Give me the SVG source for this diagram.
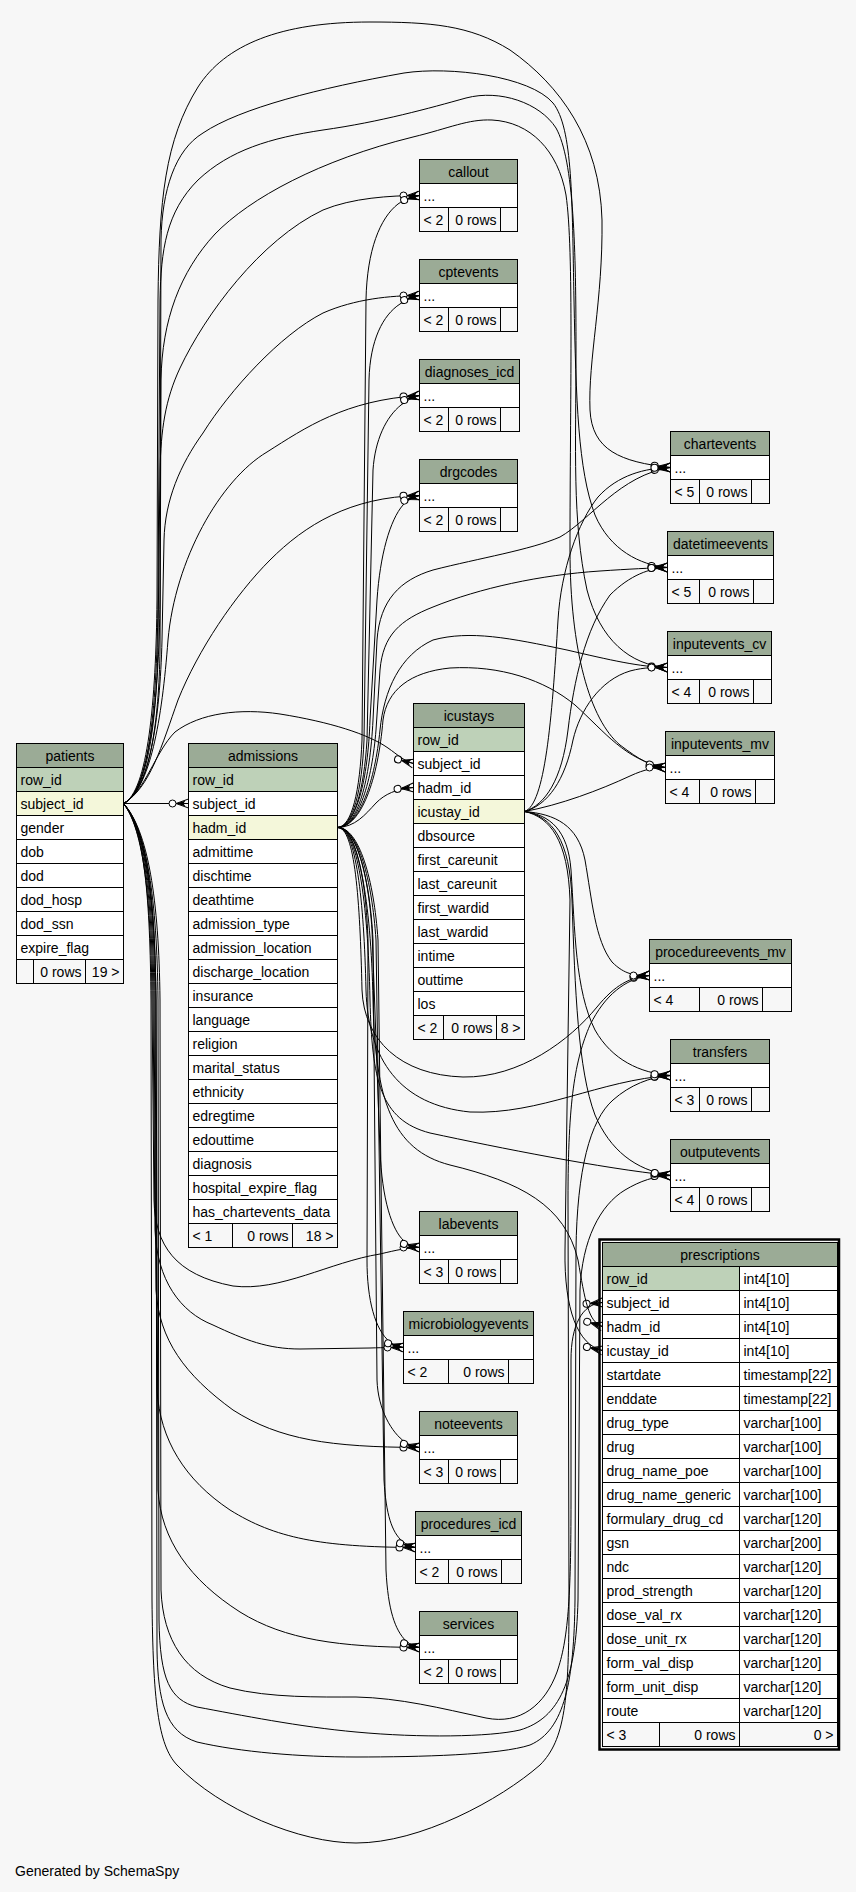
<svg xmlns="http://www.w3.org/2000/svg" width="856" height="1892" viewBox="0 0 856 1892">
<style>
.hd{fill:#9bab96;stroke:#000;stroke-width:1}
.pk{fill:#bed1b8;stroke:#000;stroke-width:1}
.ix{fill:#f4f7da;stroke:#000;stroke-width:1}
.rw{fill:#ffffff;stroke:#000;stroke-width:1}
.ft{fill:#f7f7f7;stroke:#000;stroke-width:1}
text{font-family:"Liberation Sans",Arial,Helvetica,sans-serif;font-size:14px;fill:#000}
.c{text-anchor:middle}
.r{text-anchor:end}
#connectors path{fill:none;stroke:#000;stroke-width:1;marker-end:url(#cf)}
</style>
<defs>
<marker id="cf" viewBox="-22 -7 24 14" refX="0" refY="0" markerWidth="24" markerHeight="14" markerUnits="userSpaceOnUse" orient="auto">
<path d="M-12.5,0 L0,-4.5 M-12.5,0 L0,0 M-12.5,0 L0,4.5" fill="none" stroke="#000" stroke-width="1"/>
<path d="M-12.5,0 L-3,-3 L-5,0 L-3,3 Z" fill="#000"/>
<circle cx="-16" cy="0" r="3.5" fill="#fff" stroke="#000" stroke-width="1"/>
</marker>
</defs>
<rect x="0" y="0" width="856" height="1892" fill="#f7f7f7"/>

<g id="connectors">
<path d="M123.5,803.5 L188.5,803.5"/>
<path d="M123.5,803.5 C145,792 155,752 175,732 C200,713 240,708 280,714 C330,722 368,734 388,748 C398,755 404,761 413.5,763.5"/>
<path d="M123.5,803.5 C148,792 157,720 158,640 L160,470 C161,430 165,400 180,368 C205,315 260,240 323,210 C352,198 390,195.5 419.5,195.5"/>
<path d="M123.5,803.5 C149,792 160,720 162,640 L164,540 C165,500 180,465 203,433 C230,390 280,335 323,313 C355,299 390,295.5 419.5,295.5"/>
<path d="M123.5,803.5 C150,790 162,720 168,640 C175,560 220,480 267,452 C305,428 345,400 419.5,395.5"/>
<path d="M123.5,803.5 C150,788 162,745 178,700 C198,650 235,595 270,560 C305,525 350,497 419.5,495.5"/>
<path d="M123.5,803.5 C148,792 156,700 157,600 L158,300 C159,200 165,140 198,87 C225,45 280,22 370,22 C430,22 470,25 510,50 C560,85 600,140 602,220 C603,300 588,360 590,410 C592,450 620,462 670.5,467.5"/>
<path d="M123.5,803.5 C149,792 159,700 160,600 L161,240 C162,190 175,150 203,133 C240,108 320,88 404,73 C450,66 530,76 553,103 C573,128 572,200 574,300 C576,400 578,470 595,515 C610,550 640,565 667.5,567.5"/>
<path d="M123.5,803.5 C150,792 157,700 158,600 L160,300 C161,250 166,212 198,180 C230,150 270,138 323,130 C380,122 430,108 466,98 C500,89 540,103 556,128 C574,160 576,250 576,350 C576,450 572,520 587,590 C600,640 630,665 667.5,667.5"/>
<path d="M123.5,803.5 C150,790 159,720 160,650 L161,380 C162,320 180,272 215,234 C250,198 320,160 413,137 C450,128 468,119 492,120 C530,122 558,150 566,195 C574,250 570,400 570,550 C570,650 590,720 620,745 C640,760 650,766 665.5,767.5"/>
<path d="M123.5,803.5 C145,830 150,900 151,1000 L152,1600 C153,1700 158,1745 177,1765 C220,1810 300,1843 356,1843 C420,1843 500,1800 540,1765 C565,1740 569,1700 569,1600 L568,1200 C568,1100 575,1060 590,1025 C605,995 625,979 649.5,975.5"/>
<path d="M123.5,803.5 C146,830 155,900 156,1000 L157,1650 C158,1700 165,1732 197,1742 C240,1752 300,1757 356,1757 C420,1757 500,1755 530,1745 C565,1730 574,1680 575,1600 L576,1250 C577,1170 590,1120 613,1100 C630,1085 650,1077 670.5,1075.5"/>
<path d="M123.5,803.5 C147,830 157,900 158,1000 L159,1620 C160,1680 170,1700 197,1707 C240,1715 300,1727 356,1732 C420,1738 490,1737 520,1730 C560,1718 576,1680 578,1600 L580,1290 C582,1240 600,1205 625,1190 C640,1181 655,1176 670.5,1175.5"/>
<path d="M123.5,803.5 C148,830 159,900 160,1000 L161,1590 C163,1640 185,1675 230,1688 C270,1698 320,1697 356,1697 C400,1698 440,1708 486,1718 C520,1725 545,1705 557,1672 C568,1640 571,1600 571,1500 L571,1360 C571,1325 582,1304 602.5,1302.5"/>
<path d="M123.5,803.5 C144,830 151,900 152,1000 L154,1200 C155,1245 175,1275 233,1286 C280,1292 330,1262 380,1254 C397,1250 408,1247.5 419.5,1247.5"/>
<path d="M123.5,803.5 C145,830 152,900 153,1000 L155,1230 C157,1280 180,1312 213,1325 C245,1340 268,1349 300,1349 L370,1348 C385,1347.5 395,1347.5 403.5,1347.5"/>
<path d="M123.5,803.5 C146,830 153,900 154,1000 L156,1290 C159,1340 185,1375 233,1410 C280,1440 330,1447 419.5,1447.5"/>
<path d="M123.5,803.5 C147,830 154,900 155,1000 L157,1390 C160,1440 185,1480 230,1510 C275,1538 320,1547 415.5,1547.5"/>
<path d="M123.5,803.5 C148,830 155,900 156,1000 L158,1490 C161,1540 190,1580 240,1612 C285,1640 340,1647 419.5,1647.5"/>
<path d="M337.5,827.5 C355,827 365,815 376,803 C385,794 396,789 413.5,787.5"/>
<path d="M337.5,827.5 C352,827 360,790 362,740 L366,300 C367,250 380,218 398,204 C405,199 411,198 419.5,195.5"/>
<path d="M337.5,827.5 C353,827 362,790 364,740 L369,380 C370,340 383,315 400,304 C407,299 411,298 419.5,295.5"/>
<path d="M337.5,827.5 C354,827 364,790 367,740 L373,470 C375,440 386,417 401,405 C408,400 411,398 419.5,395.5"/>
<path d="M337.5,827.5 C356,827 368,780 370,720 L377,600 C380,555 390,520 403,505 C409,499 412,498 419.5,495.5"/>
<path d="M337.5,827.5 C355,827 368,870 372,930 L380,1150 C382,1200 392,1230 404,1241 C410,1246 413,1246 419.5,1247.5"/>
<path d="M337.5,827.5 C356,827 366,880 368,940 L367,1260 C367,1300 375,1330 390,1342 C395,1346 398,1346 403.5,1347.5"/>
<path d="M337.5,827.5 C357,827 370,880 373,940 L377,1380 C378,1410 392,1433 405,1442 C410,1445 413,1446 419.5,1447.5"/>
<path d="M337.5,827.5 C358,827 372,880 376,940 L384,1480 C386,1515 392,1532 402,1541 C407,1545 410,1546 415.5,1547.5"/>
<path d="M337.5,827.5 C359,827 374,880 378,940 L386,1570 C388,1610 395,1630 406,1641 C411,1645 414,1646 419.5,1647.5"/>
<path d="M337.5,827.5 C358,827 370,780 373,720 L377,640 C380,600 400,580 433,570 C480,558 530,550 560,537 C590,520 620,475 670.5,467.5"/>
<path d="M337.5,827.5 C359,827 372,780 376,730 L380,670 C383,635 400,620 433,607 C480,588 540,575 600,571 C630,569 650,568 667.5,567.5"/>
<path d="M337.5,827.5 C360,827 375,780 380,730 C384,690 400,655 433,640 C470,630 510,638 567,650 C610,660 640,667 667.5,667.5"/>
<path d="M337.5,827.5 C361,827 378,780 383,720 C387,690 410,672 450,668 C500,665 545,680 575,705 C605,732 625,760 665.5,767.5"/>
<path d="M337.5,827.5 C355,827 360,900 362,990 C364,1040 400,1075 463,1077 C520,1078 570,1040 597,1007 C615,985 630,977 649.5,975.5"/>
<path d="M337.5,827.5 C356,827 364,900 366,990 C368,1060 400,1105 470,1112 C540,1115 600,1080 670.5,1075.5"/>
<path d="M337.5,827.5 C357,827 368,900 370,1000 C372,1080 380,1120 430,1133 C500,1148 600,1168 670.5,1175.5"/>
<path d="M337.5,827.5 C358,827 371,900 373,1000 C375,1100 392,1150 450,1165 C520,1182 565,1205 578,1260 C585,1300 588,1322 602.5,1326.5"/>
<path d="M524.5,811.5 C545,805 552,720 558,620 C561,570 578,522 598,497 C618,475 645,468 670.5,467.5"/>
<path d="M524.5,811.5 C545,805 562,780 568,730 C574,680 585,630 610,595 C630,575 650,568 667.5,567.5"/>
<path d="M524.5,811.5 C548,805 565,780 573,740 C580,710 600,680 630,671 C645,667 655,667.5 667.5,667.5"/>
<path d="M524.5,811.5 C560,805 600,790 630,776 C645,769 655,767.5 665.5,767.5"/>
<path d="M524.5,811.5 C555,814 578,825 585,860 C592,900 595,940 612,962 C625,975 635,975.5 649.5,975.5"/>
<path d="M524.5,811.5 C550,815 568,830 571,870 C575,930 575,990 595,1030 C612,1060 640,1073 670.5,1075.5"/>
<path d="M524.5,811.5 C552,816 570,840 572,900 C575,990 578,1070 595,1115 C610,1150 635,1170 670.5,1175.5"/>
<path d="M524.5,811.5 C550,817 568,840 570,900 L565,1250 C564,1310 578,1345 602.5,1350.5"/>
</g>

<g id="patients">
<rect class="hd" x="16.5" y="743.5" width="107" height="24"/><text class="c" x="70" y="760.5">patients</text>
<rect class="pk" x="16.5" y="767.5" width="107" height="24"/><text x="20.5" y="784.5">row_id</text>
<rect class="ix" x="16.5" y="791.5" width="107" height="24"/><text x="20.5" y="808.5">subject_id</text>
<rect class="rw" x="16.5" y="815.5" width="107" height="24"/><text x="20.5" y="832.5">gender</text>
<rect class="rw" x="16.5" y="839.5" width="107" height="24"/><text x="20.5" y="856.5">dob</text>
<rect class="rw" x="16.5" y="863.5" width="107" height="24"/><text x="20.5" y="880.5">dod</text>
<rect class="rw" x="16.5" y="887.5" width="107" height="24"/><text x="20.5" y="904.5">dod_hosp</text>
<rect class="rw" x="16.5" y="911.5" width="107" height="24"/><text x="20.5" y="928.5">dod_ssn</text>
<rect class="rw" x="16.5" y="935.5" width="107" height="24"/><text x="20.5" y="952.5">expire_flag</text>
<rect class="ft" x="16.5" y="959.5" width="17" height="24"/><rect class="ft" x="33.5" y="959.5" width="52" height="24"/><rect class="ft" x="85.5" y="959.5" width="38" height="24"/>
<text class="r" x="81.5" y="976.5">0 rows</text><text class="r" x="119.5" y="976.5">19 &gt;</text>
</g>

<g id="admissions">
<rect class="hd" x="188.5" y="743.5" width="149" height="24"/><text class="c" x="263" y="760.5">admissions</text>
<rect class="pk" x="188.5" y="767.5" width="149" height="24"/><text x="192.5" y="784.5">row_id</text>
<rect class="rw" x="188.5" y="791.5" width="149" height="24"/><text x="192.5" y="808.5">subject_id</text>
<rect class="ix" x="188.5" y="815.5" width="149" height="24"/><text x="192.5" y="832.5">hadm_id</text>
<rect class="rw" x="188.5" y="839.5" width="149" height="24"/><text x="192.5" y="856.5">admittime</text>
<rect class="rw" x="188.5" y="863.5" width="149" height="24"/><text x="192.5" y="880.5">dischtime</text>
<rect class="rw" x="188.5" y="887.5" width="149" height="24"/><text x="192.5" y="904.5">deathtime</text>
<rect class="rw" x="188.5" y="911.5" width="149" height="24"/><text x="192.5" y="928.5">admission_type</text>
<rect class="rw" x="188.5" y="935.5" width="149" height="24"/><text x="192.5" y="952.5">admission_location</text>
<rect class="rw" x="188.5" y="959.5" width="149" height="24"/><text x="192.5" y="976.5">discharge_location</text>
<rect class="rw" x="188.5" y="983.5" width="149" height="24"/><text x="192.5" y="1000.5">insurance</text>
<rect class="rw" x="188.5" y="1007.5" width="149" height="24"/><text x="192.5" y="1024.5">language</text>
<rect class="rw" x="188.5" y="1031.5" width="149" height="24"/><text x="192.5" y="1048.5">religion</text>
<rect class="rw" x="188.5" y="1055.5" width="149" height="24"/><text x="192.5" y="1072.5">marital_status</text>
<rect class="rw" x="188.5" y="1079.5" width="149" height="24"/><text x="192.5" y="1096.5">ethnicity</text>
<rect class="rw" x="188.5" y="1103.5" width="149" height="24"/><text x="192.5" y="1120.5">edregtime</text>
<rect class="rw" x="188.5" y="1127.5" width="149" height="24"/><text x="192.5" y="1144.5">edouttime</text>
<rect class="rw" x="188.5" y="1151.5" width="149" height="24"/><text x="192.5" y="1168.5">diagnosis</text>
<rect class="rw" x="188.5" y="1175.5" width="149" height="24"/><text x="192.5" y="1192.5">hospital_expire_flag</text>
<rect class="rw" x="188.5" y="1199.5" width="149" height="24"/><text x="192.5" y="1216.5">has_chartevents_data</text>
<rect class="ft" x="188.5" y="1223.5" width="44" height="24"/><rect class="ft" x="232.5" y="1223.5" width="60" height="24"/><rect class="ft" x="292.5" y="1223.5" width="45" height="24"/>
<text x="192.5" y="1240.5">&lt; 1</text><text class="r" x="288.5" y="1240.5">0 rows</text><text class="r" x="333.5" y="1240.5">18 &gt;</text>
</g>

<g id="icustays">
<rect class="hd" x="413.5" y="703.5" width="111" height="24"/><text class="c" x="469" y="720.5">icustays</text>
<rect class="pk" x="413.5" y="727.5" width="111" height="24"/><text x="417.5" y="744.5">row_id</text>
<rect class="rw" x="413.5" y="751.5" width="111" height="24"/><text x="417.5" y="768.5">subject_id</text>
<rect class="rw" x="413.5" y="775.5" width="111" height="24"/><text x="417.5" y="792.5">hadm_id</text>
<rect class="ix" x="413.5" y="799.5" width="111" height="24"/><text x="417.5" y="816.5">icustay_id</text>
<rect class="rw" x="413.5" y="823.5" width="111" height="24"/><text x="417.5" y="840.5">dbsource</text>
<rect class="rw" x="413.5" y="847.5" width="111" height="24"/><text x="417.5" y="864.5">first_careunit</text>
<rect class="rw" x="413.5" y="871.5" width="111" height="24"/><text x="417.5" y="888.5">last_careunit</text>
<rect class="rw" x="413.5" y="895.5" width="111" height="24"/><text x="417.5" y="912.5">first_wardid</text>
<rect class="rw" x="413.5" y="919.5" width="111" height="24"/><text x="417.5" y="936.5">last_wardid</text>
<rect class="rw" x="413.5" y="943.5" width="111" height="24"/><text x="417.5" y="960.5">intime</text>
<rect class="rw" x="413.5" y="967.5" width="111" height="24"/><text x="417.5" y="984.5">outtime</text>
<rect class="rw" x="413.5" y="991.5" width="111" height="24"/><text x="417.5" y="1008.5">los</text>
<rect class="ft" x="413.5" y="1015.5" width="30" height="24"/><rect class="ft" x="443.5" y="1015.5" width="53" height="24"/><rect class="ft" x="496.5" y="1015.5" width="28" height="24"/>
<text x="417.5" y="1032.5">&lt; 2</text><text class="r" x="492.5" y="1032.5">0 rows</text><text class="r" x="520.5" y="1032.5">8 &gt;</text>
</g>

<g id="callout">
<rect class="hd" x="419.5" y="159.5" width="98" height="24"/><text class="c" x="468.5" y="176.5">callout</text>
<rect class="rw" x="419.5" y="183.5" width="98" height="24"/><text x="423.5" y="200.5">...</text>
<rect class="ft" x="419.5" y="207.5" width="29" height="24"/><rect class="ft" x="448.5" y="207.5" width="52" height="24"/><rect class="ft" x="500.5" y="207.5" width="17" height="24"/>
<text x="423.5" y="224.5">&lt; 2</text><text class="r" x="496.5" y="224.5">0 rows</text>
</g>

<g id="cptevents">
<rect class="hd" x="419.5" y="259.5" width="98" height="24"/><text class="c" x="468.5" y="276.5">cptevents</text>
<rect class="rw" x="419.5" y="283.5" width="98" height="24"/><text x="423.5" y="300.5">...</text>
<rect class="ft" x="419.5" y="307.5" width="29" height="24"/><rect class="ft" x="448.5" y="307.5" width="52" height="24"/><rect class="ft" x="500.5" y="307.5" width="17" height="24"/>
<text x="423.5" y="324.5">&lt; 2</text><text class="r" x="496.5" y="324.5">0 rows</text>
</g>

<g id="diagnoses_icd">
<rect class="hd" x="419.5" y="359.5" width="100" height="24"/><text class="c" x="469.5" y="376.5">diagnoses_icd</text>
<rect class="rw" x="419.5" y="383.5" width="100" height="24"/><text x="423.5" y="400.5">...</text>
<rect class="ft" x="419.5" y="407.5" width="29" height="24"/><rect class="ft" x="448.5" y="407.5" width="52" height="24"/><rect class="ft" x="500.5" y="407.5" width="19" height="24"/>
<text x="423.5" y="424.5">&lt; 2</text><text class="r" x="496.5" y="424.5">0 rows</text>
</g>

<g id="drgcodes">
<rect class="hd" x="419.5" y="459.5" width="98" height="24"/><text class="c" x="468.5" y="476.5">drgcodes</text>
<rect class="rw" x="419.5" y="483.5" width="98" height="24"/><text x="423.5" y="500.5">...</text>
<rect class="ft" x="419.5" y="507.5" width="29" height="24"/><rect class="ft" x="448.5" y="507.5" width="52" height="24"/><rect class="ft" x="500.5" y="507.5" width="17" height="24"/>
<text x="423.5" y="524.5">&lt; 2</text><text class="r" x="496.5" y="524.5">0 rows</text>
</g>

<g id="chartevents">
<rect class="hd" x="670.5" y="431.5" width="99" height="24"/><text class="c" x="720" y="448.5">chartevents</text>
<rect class="rw" x="670.5" y="455.5" width="99" height="24"/><text x="674.5" y="472.5">...</text>
<rect class="ft" x="670.5" y="479.5" width="29" height="24"/><rect class="ft" x="699.5" y="479.5" width="52" height="24"/><rect class="ft" x="751.5" y="479.5" width="18" height="24"/>
<text x="674.5" y="496.5">&lt; 5</text><text class="r" x="747.5" y="496.5">0 rows</text>
</g>

<g id="datetimeevents">
<rect class="hd" x="667.5" y="531.5" width="106" height="24"/><text class="c" x="720.5" y="548.5">datetimeevents</text>
<rect class="rw" x="667.5" y="555.5" width="106" height="24"/><text x="671.5" y="572.5">...</text>
<rect class="ft" x="667.5" y="579.5" width="32" height="24"/><rect class="ft" x="699.5" y="579.5" width="54" height="24"/><rect class="ft" x="753.5" y="579.5" width="20" height="24"/>
<text x="671.5" y="596.5">&lt; 5</text><text class="r" x="749.5" y="596.5">0 rows</text>
</g>

<g id="inputevents_cv">
<rect class="hd" x="667.5" y="631.5" width="104" height="24"/><text class="c" x="719.5" y="648.5">inputevents_cv</text>
<rect class="rw" x="667.5" y="655.5" width="104" height="24"/><text x="671.5" y="672.5">...</text>
<rect class="ft" x="667.5" y="679.5" width="32" height="24"/><rect class="ft" x="699.5" y="679.5" width="54" height="24"/><rect class="ft" x="753.5" y="679.5" width="18" height="24"/>
<text x="671.5" y="696.5">&lt; 4</text><text class="r" x="749.5" y="696.5">0 rows</text>
</g>

<g id="inputevents_mv">
<rect class="hd" x="665.5" y="731.5" width="109" height="24"/><text class="c" x="720" y="748.5">inputevents_mv</text>
<rect class="rw" x="665.5" y="755.5" width="109" height="24"/><text x="669.5" y="772.5">...</text>
<rect class="ft" x="665.5" y="779.5" width="34" height="24"/><rect class="ft" x="699.5" y="779.5" width="56" height="24"/><rect class="ft" x="755.5" y="779.5" width="19" height="24"/>
<text x="669.5" y="796.5">&lt; 4</text><text class="r" x="751.5" y="796.5">0 rows</text>
</g>

<g id="procedureevents_mv">
<rect class="hd" x="649.5" y="939.5" width="142" height="24"/><text class="c" x="720.5" y="956.5">procedureevents_mv</text>
<rect class="rw" x="649.5" y="963.5" width="142" height="24"/><text x="653.5" y="980.5">...</text>
<rect class="ft" x="649.5" y="987.5" width="50" height="24"/><rect class="ft" x="699.5" y="987.5" width="63" height="24"/><rect class="ft" x="762.5" y="987.5" width="29" height="24"/>
<text x="653.5" y="1004.5">&lt; 4</text><text class="r" x="758.5" y="1004.5">0 rows</text>
</g>

<g id="transfers">
<rect class="hd" x="670.5" y="1039.5" width="99" height="24"/><text class="c" x="720" y="1056.5">transfers</text>
<rect class="rw" x="670.5" y="1063.5" width="99" height="24"/><text x="674.5" y="1080.5">...</text>
<rect class="ft" x="670.5" y="1087.5" width="29" height="24"/><rect class="ft" x="699.5" y="1087.5" width="52" height="24"/><rect class="ft" x="751.5" y="1087.5" width="18" height="24"/>
<text x="674.5" y="1104.5">&lt; 3</text><text class="r" x="747.5" y="1104.5">0 rows</text>
</g>

<g id="outputevents">
<rect class="hd" x="670.5" y="1139.5" width="99" height="24"/><text class="c" x="720" y="1156.5">outputevents</text>
<rect class="rw" x="670.5" y="1163.5" width="99" height="24"/><text x="674.5" y="1180.5">...</text>
<rect class="ft" x="670.5" y="1187.5" width="29" height="24"/><rect class="ft" x="699.5" y="1187.5" width="52" height="24"/><rect class="ft" x="751.5" y="1187.5" width="18" height="24"/>
<text x="674.5" y="1204.5">&lt; 4</text><text class="r" x="747.5" y="1204.5">0 rows</text>
</g>

<g id="labevents">
<rect class="hd" x="419.5" y="1211.5" width="98" height="24"/><text class="c" x="468.5" y="1228.5">labevents</text>
<rect class="rw" x="419.5" y="1235.5" width="98" height="24"/><text x="423.5" y="1252.5">...</text>
<rect class="ft" x="419.5" y="1259.5" width="29" height="24"/><rect class="ft" x="448.5" y="1259.5" width="52" height="24"/><rect class="ft" x="500.5" y="1259.5" width="17" height="24"/>
<text x="423.5" y="1276.5">&lt; 3</text><text class="r" x="496.5" y="1276.5">0 rows</text>
</g>

<g id="microbiologyevents">
<rect class="hd" x="403.5" y="1311.5" width="130" height="24"/><text class="c" x="468.5" y="1328.5">microbiologyevents</text>
<rect class="rw" x="403.5" y="1335.5" width="130" height="24"/><text x="407.5" y="1352.5">...</text>
<rect class="ft" x="403.5" y="1359.5" width="45" height="24"/><rect class="ft" x="448.5" y="1359.5" width="60" height="24"/><rect class="ft" x="508.5" y="1359.5" width="25" height="24"/>
<text x="407.5" y="1376.5">&lt; 2</text><text class="r" x="504.5" y="1376.5">0 rows</text>
</g>

<g id="noteevents">
<rect class="hd" x="419.5" y="1411.5" width="98" height="24"/><text class="c" x="468.5" y="1428.5">noteevents</text>
<rect class="rw" x="419.5" y="1435.5" width="98" height="24"/><text x="423.5" y="1452.5">...</text>
<rect class="ft" x="419.5" y="1459.5" width="29" height="24"/><rect class="ft" x="448.5" y="1459.5" width="52" height="24"/><rect class="ft" x="500.5" y="1459.5" width="17" height="24"/>
<text x="423.5" y="1476.5">&lt; 3</text><text class="r" x="496.5" y="1476.5">0 rows</text>
</g>

<g id="procedures_icd">
<rect class="hd" x="415.5" y="1511.5" width="106" height="24"/><text class="c" x="468.5" y="1528.5">procedures_icd</text>
<rect class="rw" x="415.5" y="1535.5" width="106" height="24"/><text x="419.5" y="1552.5">...</text>
<rect class="ft" x="415.5" y="1559.5" width="33" height="24"/><rect class="ft" x="448.5" y="1559.5" width="53" height="24"/><rect class="ft" x="501.5" y="1559.5" width="20" height="24"/>
<text x="419.5" y="1576.5">&lt; 2</text><text class="r" x="497.5" y="1576.5">0 rows</text>
</g>

<g id="services">
<rect class="hd" x="419.5" y="1611.5" width="98" height="24"/><text class="c" x="468.5" y="1628.5">services</text>
<rect class="rw" x="419.5" y="1635.5" width="98" height="24"/><text x="423.5" y="1652.5">...</text>
<rect class="ft" x="419.5" y="1659.5" width="29" height="24"/><rect class="ft" x="448.5" y="1659.5" width="52" height="24"/><rect class="ft" x="500.5" y="1659.5" width="17" height="24"/>
<text x="423.5" y="1676.5">&lt; 2</text><text class="r" x="496.5" y="1676.5">0 rows</text>
</g>

<g id="prescriptions">
<rect x="599.5" y="1239.5" width="239.5" height="510" fill="none" stroke="#000" stroke-width="2.5"/>
<rect class="hd" x="602.5" y="1242.5" width="235" height="24"/><text class="c" x="720" y="1259.5">prescriptions</text>
<rect class="pk" x="602.5" y="1266.5" width="137" height="24"/><rect class="rw" x="739.5" y="1266.5" width="98" height="24"/><text x="606.5" y="1283.5">row_id</text><text x="743.5" y="1283.5">int4[10]</text>
<rect class="rw" x="602.5" y="1290.5" width="137" height="24"/><rect class="rw" x="739.5" y="1290.5" width="98" height="24"/><text x="606.5" y="1307.5">subject_id</text><text x="743.5" y="1307.5">int4[10]</text>
<rect class="rw" x="602.5" y="1314.5" width="137" height="24"/><rect class="rw" x="739.5" y="1314.5" width="98" height="24"/><text x="606.5" y="1331.5">hadm_id</text><text x="743.5" y="1331.5">int4[10]</text>
<rect class="rw" x="602.5" y="1338.5" width="137" height="24"/><rect class="rw" x="739.5" y="1338.5" width="98" height="24"/><text x="606.5" y="1355.5">icustay_id</text><text x="743.5" y="1355.5">int4[10]</text>
<rect class="rw" x="602.5" y="1362.5" width="137" height="24"/><rect class="rw" x="739.5" y="1362.5" width="98" height="24"/><text x="606.5" y="1379.5">startdate</text><text x="743.5" y="1379.5">timestamp[22]</text>
<rect class="rw" x="602.5" y="1386.5" width="137" height="24"/><rect class="rw" x="739.5" y="1386.5" width="98" height="24"/><text x="606.5" y="1403.5">enddate</text><text x="743.5" y="1403.5">timestamp[22]</text>
<rect class="rw" x="602.5" y="1410.5" width="137" height="24"/><rect class="rw" x="739.5" y="1410.5" width="98" height="24"/><text x="606.5" y="1427.5">drug_type</text><text x="743.5" y="1427.5">varchar[100]</text>
<rect class="rw" x="602.5" y="1434.5" width="137" height="24"/><rect class="rw" x="739.5" y="1434.5" width="98" height="24"/><text x="606.5" y="1451.5">drug</text><text x="743.5" y="1451.5">varchar[100]</text>
<rect class="rw" x="602.5" y="1458.5" width="137" height="24"/><rect class="rw" x="739.5" y="1458.5" width="98" height="24"/><text x="606.5" y="1475.5">drug_name_poe</text><text x="743.5" y="1475.5">varchar[100]</text>
<rect class="rw" x="602.5" y="1482.5" width="137" height="24"/><rect class="rw" x="739.5" y="1482.5" width="98" height="24"/><text x="606.5" y="1499.5">drug_name_generic</text><text x="743.5" y="1499.5">varchar[100]</text>
<rect class="rw" x="602.5" y="1506.5" width="137" height="24"/><rect class="rw" x="739.5" y="1506.5" width="98" height="24"/><text x="606.5" y="1523.5">formulary_drug_cd</text><text x="743.5" y="1523.5">varchar[120]</text>
<rect class="rw" x="602.5" y="1530.5" width="137" height="24"/><rect class="rw" x="739.5" y="1530.5" width="98" height="24"/><text x="606.5" y="1547.5">gsn</text><text x="743.5" y="1547.5">varchar[200]</text>
<rect class="rw" x="602.5" y="1554.5" width="137" height="24"/><rect class="rw" x="739.5" y="1554.5" width="98" height="24"/><text x="606.5" y="1571.5">ndc</text><text x="743.5" y="1571.5">varchar[120]</text>
<rect class="rw" x="602.5" y="1578.5" width="137" height="24"/><rect class="rw" x="739.5" y="1578.5" width="98" height="24"/><text x="606.5" y="1595.5">prod_strength</text><text x="743.5" y="1595.5">varchar[120]</text>
<rect class="rw" x="602.5" y="1602.5" width="137" height="24"/><rect class="rw" x="739.5" y="1602.5" width="98" height="24"/><text x="606.5" y="1619.5">dose_val_rx</text><text x="743.5" y="1619.5">varchar[120]</text>
<rect class="rw" x="602.5" y="1626.5" width="137" height="24"/><rect class="rw" x="739.5" y="1626.5" width="98" height="24"/><text x="606.5" y="1643.5">dose_unit_rx</text><text x="743.5" y="1643.5">varchar[120]</text>
<rect class="rw" x="602.5" y="1650.5" width="137" height="24"/><rect class="rw" x="739.5" y="1650.5" width="98" height="24"/><text x="606.5" y="1667.5">form_val_disp</text><text x="743.5" y="1667.5">varchar[120]</text>
<rect class="rw" x="602.5" y="1674.5" width="137" height="24"/><rect class="rw" x="739.5" y="1674.5" width="98" height="24"/><text x="606.5" y="1691.5">form_unit_disp</text><text x="743.5" y="1691.5">varchar[120]</text>
<rect class="rw" x="602.5" y="1698.5" width="137" height="24"/><rect class="rw" x="739.5" y="1698.5" width="98" height="24"/><text x="606.5" y="1715.5">route</text><text x="743.5" y="1715.5">varchar[120]</text>
<rect class="ft" x="602.5" y="1722.5" width="57" height="24"/><rect class="ft" x="659.5" y="1722.5" width="80" height="24"/><rect class="ft" x="739.5" y="1722.5" width="98" height="24"/>
<text x="606.5" y="1739.5">&lt; 3</text><text class="r" x="735.5" y="1739.5">0 rows</text><text class="r" x="833.5" y="1739.5">0 &gt;</text>
</g>

<text x="15" y="1876">Generated by SchemaSpy</text>
</svg>
